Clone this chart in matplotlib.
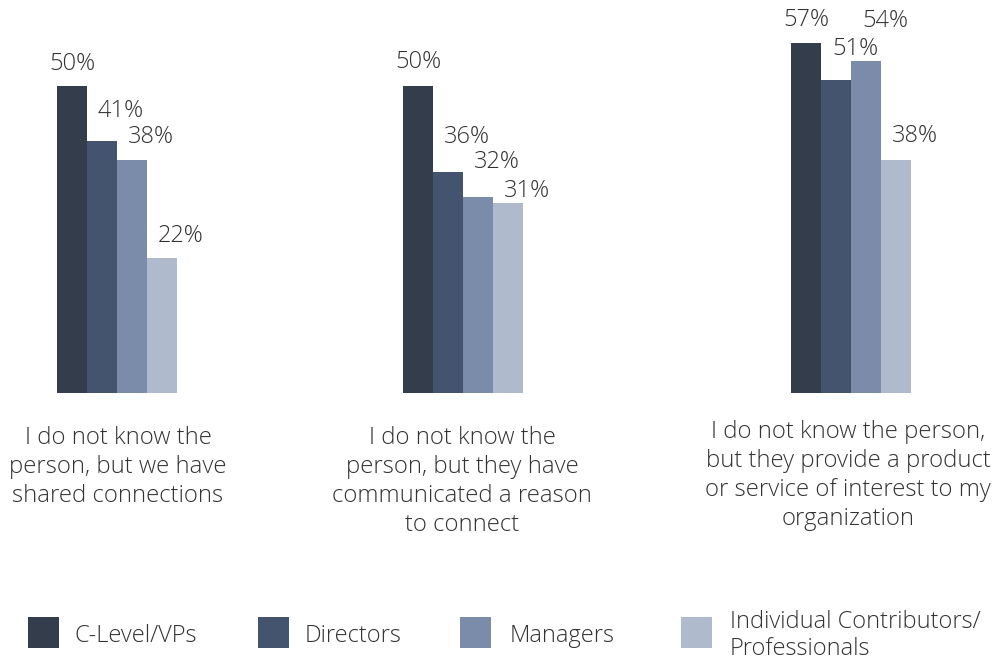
import numpy as np
import matplotlib.pyplot as plt
from matplotlib.patches import Rectangle

# data
categories = ["I do not know the\nperson, but we have\nshared connections",
              "I do not know the\nperson, but they have\ncommunicated a reason\nto connect",
              "I do not know the person,\nbut they provide a product\nor service of interest to my\norganization"]
series = ["C-Level/VPs", "Directors", "Managers", "Individual Contributors/\nProfessionals"]
c_level = [50, 50, 57]
directors = [41, 36, 51]
managers = [38, 32, 54]
individual = [22, 31, 38]
values = [c_level, directors, managers, individual]

colors = ["#343d4c", "#44546f", "#7a8caa", "#afbacc"]
text_color = "#333333"
plt.rcParams['font.family'] = ['Open Sans', 'DejaVu Sans']

W, H = 994, 658
fig = plt.figure(figsize=(W / 100, H / 100), dpi=100)
base_px = 393
ax = fig.add_axes([0, (H - base_px) / H, 1, base_px / H])
ax.set_xlim(0, W)
ax.set_ylim(0, 64)
ax.axis('off')

# layout (horizontal group positions, in pixel units of the axes)
group_left = [57, 403, 791]
bar_w = 30
# value label offsets from the bar top, in pixels (per series, per group)
label_dx = [0, 19, 19, 19]
label_dy = [[22, 24, 23], [30, 35, 31], [23, 34, 40], [22, 12, 24]]
cat_dx = [1, -1, -3]
cat_y = [-5.3, -5.3, -4.35]

for i, (name, vals) in enumerate(zip(series, values)):
    xs = np.array(group_left) + i * bar_w + bar_w / 2
    ax.bar(xs, vals, width=bar_w, color=colors[i], linewidth=0)
    for j, (x, v) in enumerate(zip(xs, vals)):
        ax.annotate(f"{v}%", (x, v), xytext=(label_dx[i] * 0.72, label_dy[i][j] * 0.72),
                    textcoords='offset points', ha='center', va='center',
                    fontsize=17, color=text_color, fontweight='light')

for j, cat in enumerate(categories):
    cx = group_left[j] + 2 * bar_w + cat_dx[j]
    ax.text(cx, cat_y[j], cat, ha='center', va='top', fontsize=17.2, color=text_color,
            fontweight='light', linespacing=1.28, clip_on=False)

# legend
leg_sq_x = [28, 258, 460, 681]
leg_txt_x = [75, 305, 510, 730]
sq_top, sq = 617, 31
for i, name in enumerate(series):
    fig.patches.append(Rectangle((leg_sq_x[i] / W, (H - sq_top - sq) / H), sq / W, sq / H,
                                 transform=fig.transFigure, color=colors[i], linewidth=0))
    fig.text(leg_txt_x[i] / W, (H - sq_top - sq / 2 - 3) / H, name, ha='left', va='center',
             fontsize=17, color=text_color, fontweight='light', linespacing=1.12)

fig.savefig("out.png", dpi=100, facecolor='white')
